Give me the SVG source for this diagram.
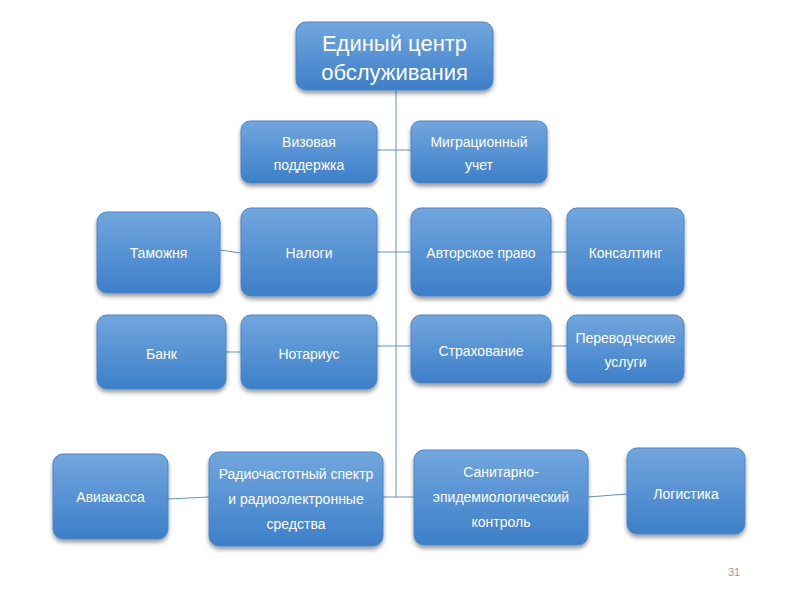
<svg xmlns="http://www.w3.org/2000/svg" width="800" height="600" viewBox="0 0 800 600">
<defs>
<linearGradient id="g" x1="0" y1="0" x2="0" y2="1">
<stop offset="0" stop-color="#72a6de"/>
<stop offset="1" stop-color="#3d7fc9"/>
</linearGradient>
<filter id="sh" x="-10%" y="-10%" width="120%" height="130%">
<feGaussianBlur in="SourceAlpha" stdDeviation="2"/>
<feOffset dy="3"/>
<feComponentTransfer><feFuncA type="linear" slope="0.4"/></feComponentTransfer>
<feMerge><feMergeNode/><feMergeNode in="SourceGraphic"/></feMerge>
</filter>
</defs>
<style>
.b{fill:url(#g);stroke:#4a86c9;stroke-width:1;filter:url(#sh)}
.t{font-family:"Liberation Sans",Arial,sans-serif;font-size:14px;fill:#fff;text-anchor:middle}
.T{font-family:"Liberation Sans",Arial,sans-serif;font-size:22px;fill:#fff;text-anchor:middle}
.c{stroke:#5f95d0;stroke-width:1;fill:none}
.n{font-family:"Liberation Sans",Arial,sans-serif;font-size:11px;fill:#999;text-anchor:middle}
</style>
<rect width="800" height="600" fill="#fff"/>
<g id="connectors">
<line class="c" x1="396" y1="90" x2="396" y2="497"/>
<line class="c" x1="377" y1="150" x2="411" y2="150"/>
<line class="c" x1="377" y1="252" x2="411" y2="252"/>
<line class="c" x1="220" y1="250" x2="241" y2="253"/>
<line class="c" x1="551" y1="252" x2="567" y2="252"/>
<line class="c" x1="226" y1="352" x2="241" y2="352"/>
<line class="c" x1="377" y1="346" x2="411" y2="346"/>
<line class="c" x1="551" y1="346" x2="567" y2="346"/>
<line class="c" x1="383" y1="497" x2="414" y2="497"/>
<line class="c" x1="168" y1="499" x2="209" y2="497"/>
<line class="c" x1="588" y1="497" x2="627" y2="494"/>
</g>
<g id="center"><rect class="b" x="296" y="22" width="197" height="68" rx="10"/><text class="T" x="394.5" y="51">Единый центр</text><text class="T" x="394.5" y="80">обслуживания</text></g>
<g id="viza"><rect class="b" x="241" y="121" width="136" height="62" rx="9"/><text class="t" x="309" y="147">Визовая</text><text class="t" x="309" y="170">поддержка</text></g>
<g id="migr"><rect class="b" x="411" y="121" width="136" height="62" rx="9"/><text class="t" x="479" y="147">Миграционный</text><text class="t" x="479" y="170">учет</text></g>
<g id="tamozh"><rect class="b" x="97" y="212" width="123" height="81" rx="10"/><text class="t" x="158.5" y="258">Таможня</text></g>
<g id="nalogi"><rect class="b" x="241" y="208" width="136" height="88" rx="10"/><text class="t" x="309" y="258">Налоги</text></g>
<g id="avtor"><rect class="b" x="411" y="208" width="140" height="88" rx="10"/><text class="t" x="481" y="258">Авторское право</text></g>
<g id="konsalt"><rect class="b" x="567" y="208" width="117" height="88" rx="10"/><text class="t" x="625.5" y="258">Консалтинг</text></g>
<g id="bank"><rect class="b" x="97" y="315" width="129" height="74" rx="10"/><text class="t" x="161.5" y="359">Банк</text></g>
<g id="notar"><rect class="b" x="241" y="315" width="136" height="74" rx="10"/><text class="t" x="309" y="359">Нотариус</text></g>
<g id="strah"><rect class="b" x="411" y="315" width="140" height="68" rx="10"/><text class="t" x="481" y="356">Страхование</text></g>
<g id="perevod"><rect class="b" x="567" y="315" width="117" height="68" rx="10"/><text class="t" x="625.5" y="343">Переводческие</text><text class="t" x="625.5" y="367">услуги</text></g>
<g id="avia"><rect class="b" x="53" y="454" width="115" height="85" rx="10"/><text class="t" x="110.5" y="502">Авиакасса</text></g>
<g id="radio"><rect class="b" x="209" y="452" width="174" height="94" rx="10"/><text class="t" x="296" y="479">Радиочастотный спектр</text><text class="t" x="296" y="504">и радиоэлектронные</text><text class="t" x="296" y="529">средства</text></g>
<g id="sanit"><rect class="b" x="414" y="450" width="174" height="95" rx="10"/><text class="t" x="501" y="477">Санитарно-</text><text class="t" x="501" y="502">эпидемиологический</text><text class="t" x="501" y="527">контроль</text></g>
<g id="logist"><rect class="b" x="627" y="448" width="118" height="86" rx="10"/><text class="t" x="686" y="499">Логистика</text></g>
<text class="n" x="734" y="576">31</text>
</svg>
